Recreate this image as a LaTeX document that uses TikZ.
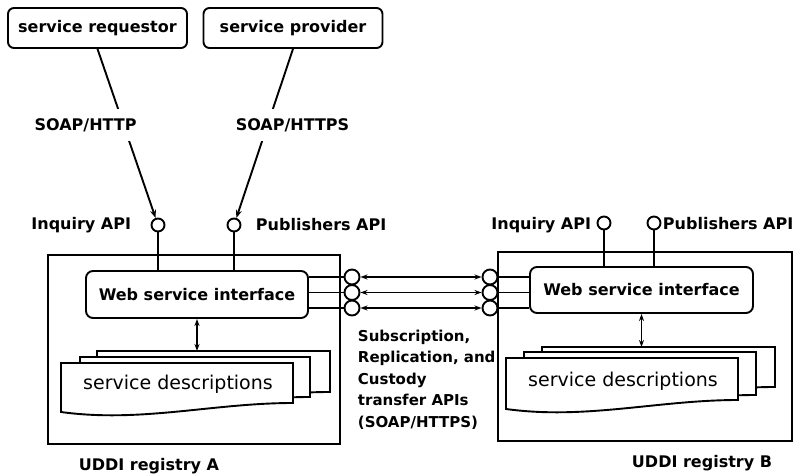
\documentclass[tikz,border=0pt]{standalone}
\usepackage{fontspec}
\setmainfont{DejaVu Sans}
\usepackage{tikz}
\usetikzlibrary{arrows.meta}

\tikzset{
	lbl/.style={font=\bfseries\fontsize{16}{19}\selectfont, inner sep=3pt},
	topbox/.style={lbl, draw, rounded corners=6pt, minimum width=179pt, minimum height=40pt},
	webbox/.style={lbl, draw, rounded corners=7pt, minimum width=222pt, minimum height=47pt},
	registry/.style={draw, minimum width=292pt, minimum height=189pt},
	api/.style={draw, circle, fill=white, inner sep=0pt, minimum size=13pt},
	doctext/.style={font=\fontsize{19}{22}\selectfont, inner sep=0pt},
	conn/.style={-{Stealth[length=8pt, width=6pt]}},
	both/.style={{Stealth[length=7pt, width=5pt]}-{Stealth[length=7pt, width=5pt]}, line width=1.3pt},
}

% Blatt mit welligem Unterrand: x1, y1 (oben links), x2, y2 (unten rechts)
\newcommand{\docpage}[4]{%
	\filldraw[fill=white] (#1,#2) -- (#3,#2) -- (#3,#4)
		.. controls (#3-80,#4) and (#1+80,#4+20) .. (#1,#4+9) -- cycle;}

\begin{document}
\begin{tikzpicture}[x=1pt, y=-1pt, line width=1.9pt]
	\useasboundingbox (0,0) rectangle (798,476); % Rand wie im Original
	
	% Client-Seite
	\node[topbox] (requestor) at (97.5,28) {service requestor};
	\node[topbox] (provider) at (293,28) {service provider};
	
	% Registry A
	\node[registry] (regA) at (194,349.5) {};
	\node[webbox] (webA) at (197,294.5) {Web service interface};
	\docpage{97}{351}{330}{392}
	\docpage{80}{357}{310}{397}
	\docpage{61}{363}{293}{403}
	\node[doctext] (descA) at (178,384) {service descriptions};
	\coordinate (pagesA) at (197,351);
	\draw[both] (webA) -- (pagesA);
	\node[lbl] (nameA) at (149,466) {UDDI registry A};
	
	% Registry B
	\node[registry, minimum width=294pt] (regB) at (645,346.5) {};
	\node[webbox, minimum width=223pt, minimum height=46pt] (webB) at (641.5,290) {Web service interface};
	\docpage{542}{347}{775}{387}
	\docpage{524}{352}{756}{395}
	\docpage{506}{358}{738}{400}
	\node[doctext] (descB) at (623,381) {service descriptions};
	\coordinate (pagesB) at (641.5,347);
	\draw[both] (webB) -- (pagesB);
	\node[lbl] (nameB) at (702,463) {UDDI registry B};
	
	% API-Anschluesse oben
	\node[api] (inqA) at (158,225) {};
	\node[api] (pubA) at (234,225) {};
	\node[api] (inqB) at (604,223) {};
	\node[api] (pubB) at (654,223) {};
	\draw (inqA) -- (inqA |- webA.north);
	\draw (pubA) -- (pubA |- webA.north);
	\draw (inqB) -- (inqB |- webB.north);
	\draw (pubB) -- (pubB |- webB.north);
	\node[lbl, anchor=east] (inqAlbl) at (135,225) {Inquiry API};
	\node[lbl, anchor=west] (pubAlbl) at (252,225) {Publishers API};
	\node[lbl, anchor=east] (inqBlbl) at (595,225) {Inquiry API};
	\node[lbl, anchor=west] (pubBlbl) at (659,224) {Publishers API};
	
	\draw[conn] (requestor.south) -- node[lbl, fill=white, inner ysep=9pt, pos=0.45, xshift=-38pt] (soapA) {SOAP/HTTP} (inqA);
	\draw[conn] (provider.south) -- node[lbl, fill=white, inner ysep=9pt, pos=0.45, xshift=25pt] (soapB) {SOAP/HTTPS} (pubA);
	
	% Replikation zwischen A und B
	\foreach \i/\y in {1/277, 2/292.5, 3/308} {
		\node[api, minimum size=15pt] (sA\i) at (352,\y) {};
		\node[api, minimum size=15pt] (sB\i) at (490,\y) {};
		\draw (webA.east |- sA\i) -- (sA\i);
		\draw (sB\i) -- (webB.west |- sB\i);
		\draw[both] (sA\i) -- (sB\i);
	}
	
	\node[lbl, font=\bfseries\fontsize{15}{21.5}\selectfont, align=left, anchor=north west] (syncapis) at (354,326)
		{Subscription,\\Replication, and\\Custody\\transfer APIs\\(SOAP/HTTPS)};
	
	%\draw[help lines] (0,0) grid (798,476);
\end{tikzpicture}
\end{document}
